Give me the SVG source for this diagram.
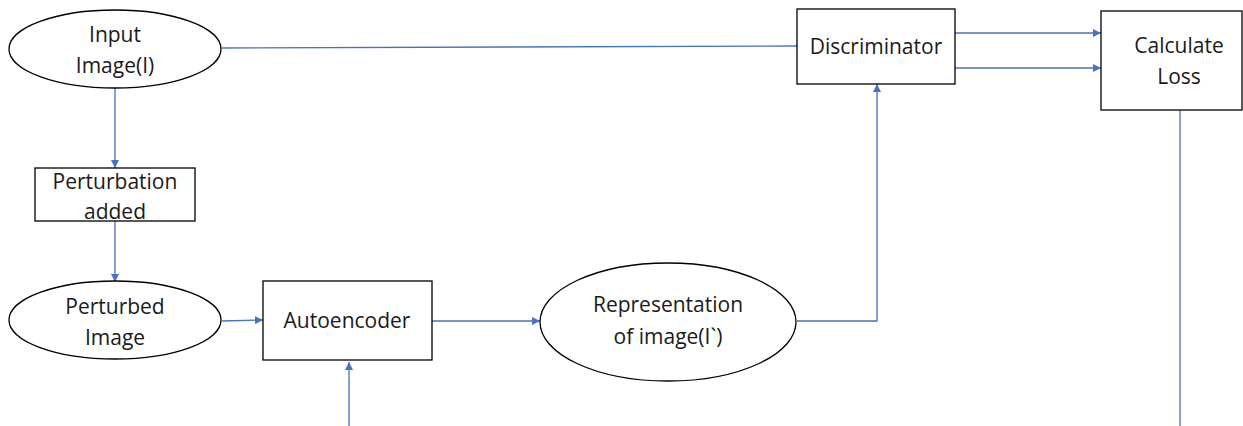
<svg xmlns="http://www.w3.org/2000/svg" width="1243" height="426" viewBox="0 0 1243 426">
  <style>
    .shape { fill: #ffffff; stroke: #000000; stroke-width: 1.3; }
    .label { font-family: "Open Sans", "Liberation Sans", sans-serif; font-size: 21px; fill: #1a1a1a; text-anchor: middle; }
    .wire { fill: none; stroke: #4472c4; stroke-width: 1.3; }
  </style>
  <defs>
    <marker id="arrow" viewBox="0 0 10 10" refX="10" refY="5" markerWidth="8" markerHeight="8" markerUnits="userSpaceOnUse" orient="auto">
      <path d="M0,0 L10,5 L0,10 z" fill="#4472c4"/>
    </marker>
  </defs>
  <rect width="1243" height="426" fill="#ffffff"/>

  <g id="connectors">
    <path class="wire" d="M222,48 L797,46"/>
    <path class="wire" d="M115,88 L115,168" marker-end="url(#arrow)"/>
    <path class="wire" d="M115,221 L115,282" marker-end="url(#arrow)"/>
    <path class="wire" d="M222,321 L263,320" marker-end="url(#arrow)"/>
    <path class="wire" d="M432,321 L540,321" marker-end="url(#arrow)"/>
    <path class="wire" d="M797,321 L877,321 L877,84" marker-end="url(#arrow)"/>
    <path class="wire" d="M955,33 L1101,33" marker-end="url(#arrow)"/>
    <path class="wire" d="M955,68 L1101,68" marker-end="url(#arrow)"/>
    <path class="wire" d="M349,426 L349,362" marker-end="url(#arrow)"/>
    <path class="wire" d="M1180,110 L1180,426"/>
  </g>

  <g id="input-image">
    <ellipse class="shape" cx="115" cy="49" rx="106" ry="39"/>
    <text class="label" x="115" y="42">Input</text>
    <text class="label" x="115" y="73">Image(I)</text>
  </g>

  <g id="perturbation">
    <rect class="shape" x="35" y="168" width="160" height="53"/>
    <text class="label" x="115" y="189">Perturbation</text>
    <text class="label" x="115" y="219">added</text>
  </g>

  <g id="perturbed-image">
    <ellipse class="shape" cx="115" cy="320" rx="106" ry="39"/>
    <text class="label" x="115" y="314">Perturbed</text>
    <text class="label" x="115" y="345">Image</text>
  </g>

  <g id="autoencoder">
    <rect class="shape" x="263" y="281" width="169" height="79"/>
    <text class="label" x="347" y="328">Autoencoder</text>
  </g>

  <g id="representation">
    <ellipse class="shape" cx="668" cy="322" rx="128" ry="59"/>
    <text class="label" x="668" y="312">Representation</text>
    <text class="label" x="668" y="344">of image(I`)</text>
  </g>

  <g id="discriminator">
    <rect class="shape" x="797" y="9" width="158" height="75"/>
    <text class="label" x="876" y="54">Discriminator</text>
  </g>

  <g id="calculate-loss">
    <rect class="shape" x="1101" y="11" width="141" height="99"/>
    <text class="label" x="1179" y="53">Calculate</text>
    <text class="label" x="1179" y="84">Loss</text>
  </g>
</svg>
